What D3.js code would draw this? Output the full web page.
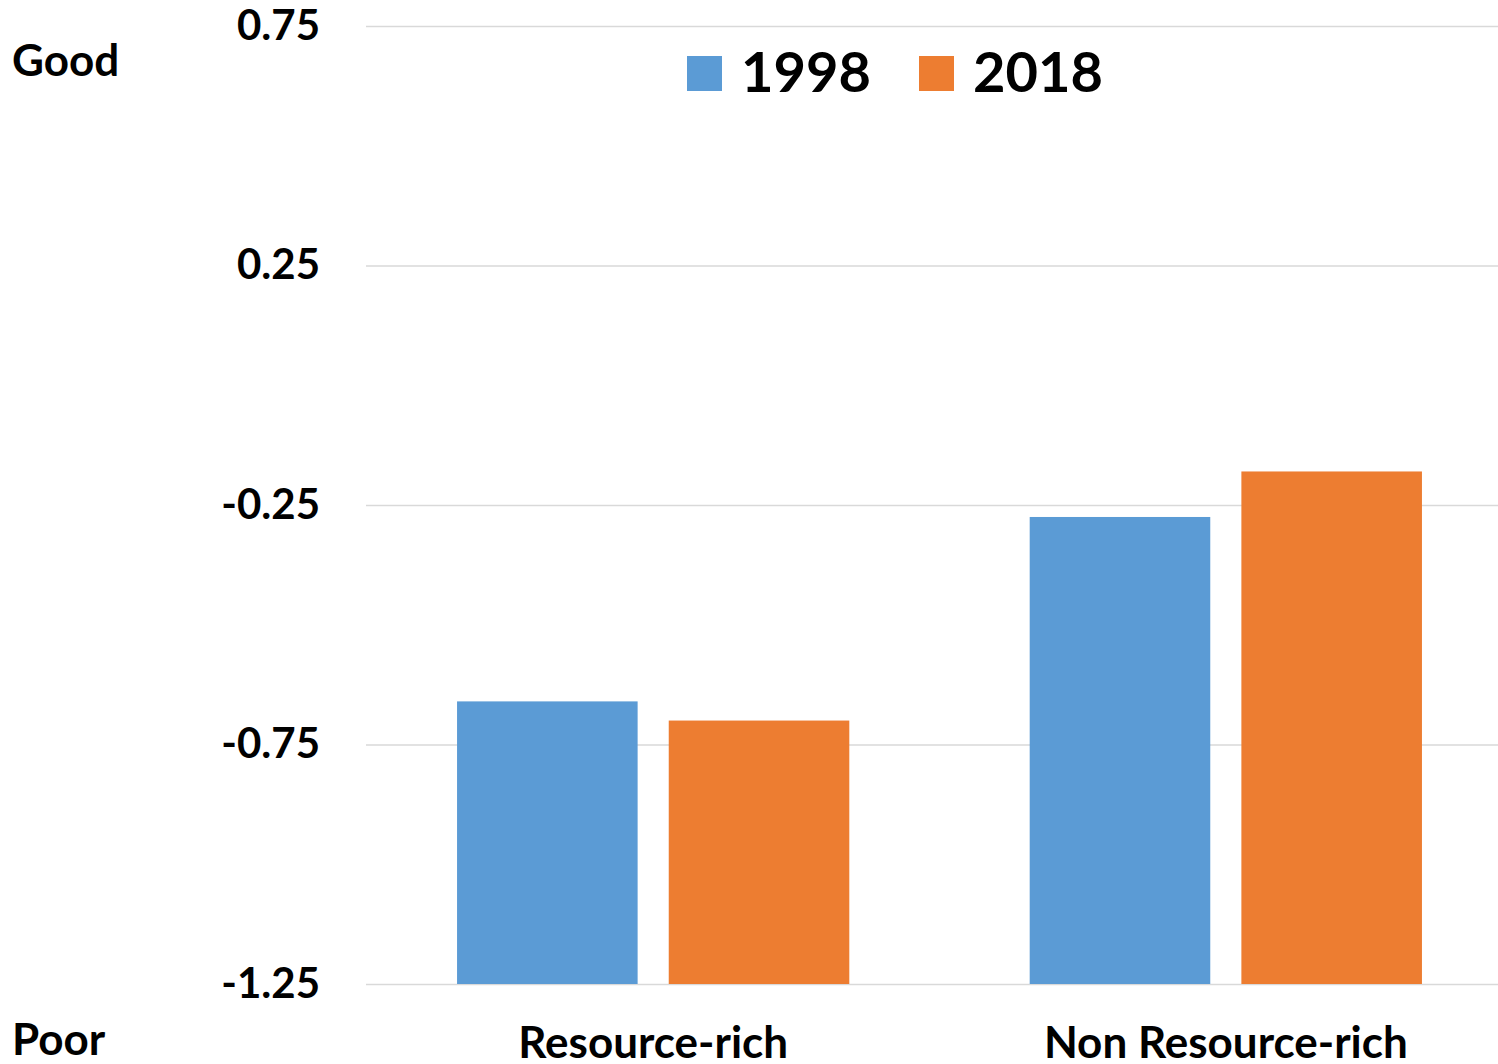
<!DOCTYPE html>
<html>
<head>
<meta charset="utf-8">
<script src="https://cdn.jsdelivr.net/npm/d3@7"></script>
<style>
  body { margin: 0; background: #fff; }
  text { font-family: Lato, "Open Sans", sans-serif; font-weight: bold; fill: #000; }
</style>
</head>
<body>
<div id="chart"></div>
<script>
var categories = ["Resource-rich", "Non Resource-rich"];
var years = ["1998", "2018"];
var values1998 = [-0.66, -0.275];
var values2018 = [-0.70, -0.18];
var tickValues = [0.75, 0.25, -0.25, -0.75, -1.25];
var colors = ["#5B9BD5", "#ED7D31"];

var width = 1498, height = 1064;
var data = categories.map(function (c, i) {
    return {cat: c, vals: [values1998[i], values2018[i]]};
});

var svg = d3.select("#chart").append("svg")
    .attr("width", width)
    .attr("height", height);

var y = d3.scaleLinear().domain([-1.25, 0.75]).range([984, 26]);

var x0 = d3.scaleBand().domain(categories)
    .range([366, 1513])
    .paddingInner(0.315)
    .paddingOuter(0.159);

var x1 = d3.scaleBand().domain(years)
    .range([0, x0.bandwidth()])
    .paddingInner(0.147);

// gridlines
svg.append("g").selectAll("line")
    .data(tickValues)
    .enter().append("line")
    .attr("x1", 366)
    .attr("x2", width)
    .attr("y1", function (d) { return y(d) + 0.5; })
    .attr("y2", function (d) { return y(d) + 0.5; })
    .attr("stroke", "#d9d9d9")
    .attr("stroke-width", 1.5);

// y axis labels (plain hyphen for negatives)
var yAxis = svg.append("g")
    .attr("transform", "translate(320,0)")
    .call(d3.axisLeft(y).tickValues(tickValues).tickSize(0).tickPadding(0)
        .tickFormat(function (d) { return d.toFixed(2); }));
yAxis.select(".domain").remove();
yAxis.selectAll("text")
    .style("font-size", "42px")
    .style("font-family", "Lato, sans-serif")
    .attr("fill", "#000")
    .attr("dy", "0.32em");

// bars
var groups = svg.append("g").selectAll("g")
    .data(data)
    .enter().append("g")
    .attr("transform", function (d) { return "translate(" + x0(d.cat) + ",0)"; });

groups.selectAll("rect")
    .data(function (d) { return d.vals.map(function (v, i) { return {year: years[i], v: v, i: i}; }); })
    .enter().append("rect")
    .attr("x", function (d) { return x1(d.year); })
    .attr("width", x1.bandwidth())
    .attr("y", function (d) { return y(d.v); })
    .attr("height", function (d) { return y(-1.25) - y(d.v); })
    .attr("fill", function (d) { return colors[d.i]; });

// category labels
svg.append("g").selectAll("text")
    .data(categories)
    .enter().append("text")
    .attr("x", function (d) { return x0(d) + x0.bandwidth() / 2; })
    .attr("y", 1058)
    .attr("text-anchor", "middle")
    .style("font-size", "44px")
    .text(function (d) { return d; });

// Good / Poor
svg.append("text").attr("x", 12).attr("y", 76).style("font-size", "44px").text("Good");
svg.append("text").attr("x", 12).attr("y", 1055).style("font-size", "44px").text("Poor");

// legend
var legend = svg.append("g").selectAll("g")
    .data(years)
    .enter().append("g")
    .attr("transform", function (d, i) { return "translate(" + (687 + i * 232) + ",56)"; });

legend.append("rect")
    .attr("width", 35)
    .attr("height", 35)
    .attr("fill", function (d, i) { return colors[i]; });

legend.append("text")
    .attr("x", 54)
    .attr("y", 36)
    .style("font-size", "56px")
    .text(function (d) { return d; });
</script>
</body>
</html>
